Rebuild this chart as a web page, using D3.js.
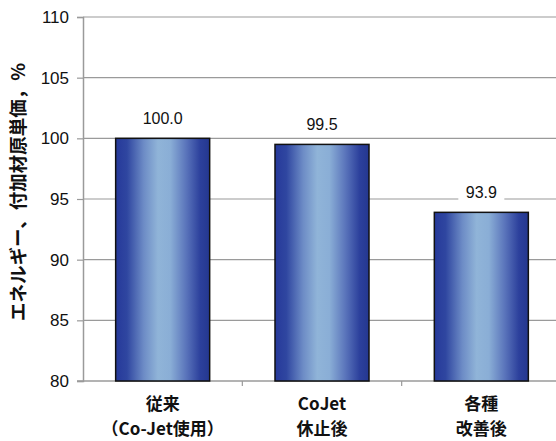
<!DOCTYPE html>
<html>
<head>
<meta charset="utf-8">
<script src="https://cdn.jsdelivr.net/npm/d3@7"></script>
<style>
  html, body { margin: 0; padding: 0; background: #fff; }
  svg { display: block; }
</style>
</head>
<body>
<svg id="chart" width="556" height="441"></svg>
<script>
// Categories (two-line labels) and their values
const categoryLine1 = ["従来", "CoJet", "各種"];
const categoryLine2 = ["（Co-Jet使用）", "休止後", "改善後"];
const categoryKeys = ["c1", "c2", "c3"];
const values = [100.0, 99.5, 93.9];
const valueLabels = ["100.0", "99.5", "93.9"];
const yTicks = [80, 85, 90, 95, 100, 105, 110];
const yTitle = "エネルギー、付加材原単価，%";

const svg = d3.select("#chart");
const margin = { left: 83, top: 17, right: 0, bottom: 60 };
const plotRight = 561;
const plotBottom = 381;

const x = d3.scaleBand()
  .domain(categoryKeys)
  .range([margin.left, plotRight])
  .paddingInner(0.41)
  .paddingOuter(0.205);

const y = d3.scaleLinear().domain([80, 110]).range([plotBottom, margin.top]);

// Bar fill: dark edges, light centre
const defs = svg.append("defs");
const grad = defs.append("linearGradient")
  .attr("id", "barGrad").attr("x1", "0%").attr("x2", "100%").attr("y1", "0%").attr("y2", "0%");
[
  ["0%", "#26399a"],
  ["12%", "#2f46a0"],
  ["30%", "#6d8cc6"],
  ["45%", "#90b4d8"],
  ["58%", "#8aaed6"],
  ["75%", "#5a74bb"],
  ["90%", "#2c409c"],
  ["100%", "#24378f"]
].forEach(([o, c]) => grad.append("stop").attr("offset", o).attr("stop-color", c));

// Gridlines
svg.append("g")
  .selectAll("line")
  .data(yTicks.filter(t => t > 80))
  .join("line")
  .attr("x1", margin.left).attr("x2", plotRight)
  .attr("y1", d => y(d)).attr("y2", d => y(d))
  .attr("stroke", "#9a9a9a").attr("stroke-width", 1.2);

// Y axis
const yAxis = d3.axisLeft(y).tickValues(yTicks).tickSize(6).tickPadding(8).tickFormat(d3.format("d"));
const gy = svg.append("g").attr("transform", `translate(${margin.left},0)`).call(yAxis);
gy.select(".domain").attr("stroke", "#9a9a9a").attr("stroke-width", 1.5);
gy.selectAll(".tick line").attr("stroke", "#9a9a9a").attr("stroke-width", 1.2);
gy.selectAll(".tick text")
  .attr("fill", "#111")
  .style("font-family", "'Liberation Sans', Arial, sans-serif")
  .style("font-size", "17px");

// X axis baseline with category separator ticks
svg.append("line")
  .attr("x1", margin.left - 6).attr("x2", plotRight)
  .attr("y1", plotBottom).attr("y2", plotBottom)
  .attr("stroke", "#9a9a9a").attr("stroke-width", 1.5);
const step = x.step();
svg.append("g").selectAll("line")
  .data(categoryKeys.slice(1))
  .join("line")
  .attr("x1", d => x(d) - step * x.paddingInner() / 2)
  .attr("x2", d => x(d) - step * x.paddingInner() / 2)
  .attr("y1", plotBottom).attr("y2", plotBottom + 5)
  .attr("stroke", "#9a9a9a").attr("stroke-width", 1.2);

// Bars
svg.append("g").selectAll("rect")
  .data(values)
  .join("rect")
  .attr("x", (d, i) => x(categoryKeys[i]))
  .attr("width", x.bandwidth())
  .attr("y", d => y(d))
  .attr("height", d => y(80) - y(d))
  .attr("fill", "url(#barGrad)")
  .attr("stroke", "#111")
  .attr("stroke-width", 1.5);

// Value labels with white backing boxes
const lab = svg.append("g").selectAll("g")
  .data(values)
  .join("g")
  .attr("transform", (d, i) => `translate(${x(categoryKeys[i]) + x.bandwidth() / 2},${y(d) - 20})`);
lab.append("rect")
  .attr("x", -23).attr("y", -11).attr("width", 46).attr("height", 22)
  .attr("fill", "#fff");
lab.append("text")
  .attr("text-anchor", "middle").attr("dy", "0.36em")
  .attr("fill", "#111")
  .style("font-family", "'Liberation Sans', Arial, sans-serif")
  .style("font-size", "16px")
  .text((d, i) => valueLabels[i]);

// Category labels
const cat = svg.append("g").selectAll("g")
  .data(categoryKeys)
  .join("g")
  .attr("transform", d => `translate(${x(d) + x.bandwidth() / 2},0)`);
cat.append("text")
  .attr("y", 410).attr("text-anchor", "middle")
  .style("font-family", "'Noto Sans CJK JP', sans-serif")
  .style("font-weight", "bold").style("font-size", "17px").attr("fill", "#111")
  .text((d, i) => categoryLine1[i]);
cat.append("text")
  .attr("y", 435).attr("text-anchor", "middle")
  .style("font-family", "'Noto Sans CJK JP', sans-serif")
  .style("font-weight", "bold").style("font-size", "17px").attr("fill", "#111")
  .text((d, i) => categoryLine2[i]);

// Y axis title
svg.append("text")
  .attr("transform", `translate(25,192) rotate(-90)`)
  .attr("text-anchor", "middle")
  .style("font-family", "'Noto Sans CJK JP', sans-serif")
  .style("font-weight", "bold").style("font-size", "18.5px").attr("fill", "#111")
  .text(yTitle);
</script>
</body>
</html>
